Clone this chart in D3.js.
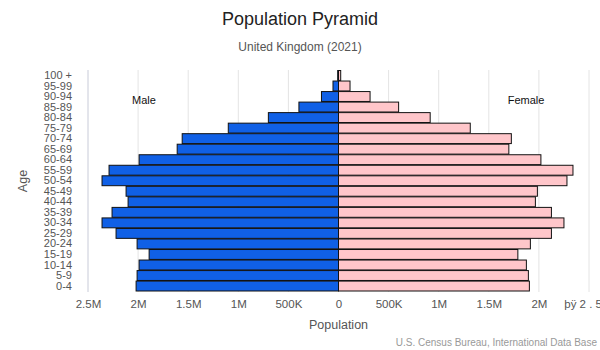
<!DOCTYPE html>
<html>
<head>
<meta charset="utf-8">
<script src="https://cdn.jsdelivr.net/npm/d3@7"></script>
<style>
html,body{margin:0;padding:0;background:#fff;}
svg{display:block;font-family:"Liberation Sans",Arial,sans-serif;}
</style>
</head>
<body>
<svg id="chart" width="600" height="350"></svg>
<script>
const ageGroups = ["100 +","95-99","90-94","85-89","80-84","75-79","70-74","65-69","60-64","55-59","50-54","45-49","40-44","35-39","30-34","25-29","20-24","15-19","10-14","5-9","0-4"];
const maleValues = [8000,55000,170000,395000,700000,1100000,1560000,1610000,1990000,2290000,2360000,2120000,2100000,2260000,2360000,2220000,2010000,1890000,1990000,2010000,2020000];
const femaleValues = [22000,115000,315000,600000,915000,1315000,1725000,1700000,2020000,2340000,2280000,1985000,1965000,2125000,2250000,2125000,1915000,1790000,1875000,1895000,1905000];
const tickValues = [-2500000,-2000000,-1500000,-1000000,-500000,0,500000,1000000,1500000,2000000,2500000];
const tickLabels = ["2.5M","2M","1.5M","1M","500K","0","500K","1M","1.5M","2M","þÿ 2 . 5 M"];

const svg = d3.select("#chart");
const x = d3.scaleLinear().domain([-2500000, 2500000]).range([88, 589]);
const y = d3.scaleBand().domain(ageGroups).range([70.5, 291]).paddingInner(0.06);

// gridlines
svg.append("g").selectAll("line").data(tickValues.filter(v => v !== 0)).join("line")
  .attr("x1", d => x(d)).attr("x2", d => x(d))
  .attr("y1", 70).attr("y2", 292)
  .attr("stroke", d => d === -2500000 ? "#c8cbd8" : "#e4e4e4").attr("stroke-width", 1);

// bars
svg.append("g").selectAll("rect").data(ageGroups).join("rect")
  .attr("x", (d, i) => x(-maleValues[i]))
  .attr("y", d => y(d))
  .attr("width", (d, i) => x(0) - x(-maleValues[i]))
  .attr("height", y.bandwidth())
  .attr("fill", "#1060e6").attr("stroke", "#111").attr("stroke-width", 1);

svg.append("g").selectAll("rect").data(ageGroups).join("rect")
  .attr("x", x(0))
  .attr("y", d => y(d))
  .attr("width", (d, i) => x(femaleValues[i]) - x(0))
  .attr("height", y.bandwidth())
  .attr("fill", "#ffc6ca").attr("stroke", "#111").attr("stroke-width", 1);

// x axis
const xAxis = d3.axisBottom(x).tickValues(tickValues).tickSize(0).tickPadding(0)
  .tickFormat((d, i) => tickLabels[i]);
const gx = svg.append("g").attr("transform", "translate(0,300)").call(xAxis);
gx.select(".domain").remove();
gx.selectAll("text").attr("fill", "#555").attr("font-size", 11.5)
  .attr("font-family", "Liberation Sans, Arial, sans-serif").attr("dy", "0.7em");

// y axis
const yAxis = d3.axisLeft(y).tickSize(0).tickPadding(0);
const gy = svg.append("g").attr("transform", "translate(72,0)").call(yAxis);
gy.select(".domain").remove();
gy.selectAll("text").attr("fill", "#555").attr("font-size", 11)
  .attr("font-family", "Liberation Sans, Arial, sans-serif");

// titles
svg.append("text").attr("x", 300).attr("y", 25).attr("text-anchor", "middle")
  .attr("font-size", 18).attr("fill", "#222").text("Population Pyramid");
svg.append("text").attr("x", 300).attr("y", 51).attr("text-anchor", "middle")
  .attr("font-size", 12).attr("fill", "#555").text("United Kingdom (2021)");
svg.append("text").attr("x", x(0)).attr("y", 329).attr("text-anchor", "middle")
  .attr("font-size", 12.5).attr("fill", "#555").text("Population");
svg.append("text").attr("transform", "translate(27,181) rotate(-90)").attr("text-anchor", "middle")
  .attr("font-size", 12.5).attr("fill", "#555").text("Age");
svg.append("text").attr("x", 597).attr("y", 346).attr("text-anchor", "end")
  .attr("font-size", 10).attr("fill", "#999").text("U.S. Census Bureau, International Data Base");

// legend labels
svg.append("text").attr("x", 144).attr("y", 104).attr("text-anchor", "middle")
  .attr("font-size", 11).attr("fill", "#111").text("Male");
svg.append("text").attr("x", 526).attr("y", 104).attr("text-anchor", "middle")
  .attr("font-size", 11).attr("fill", "#111").text("Female");
</script>
</body>
</html>
